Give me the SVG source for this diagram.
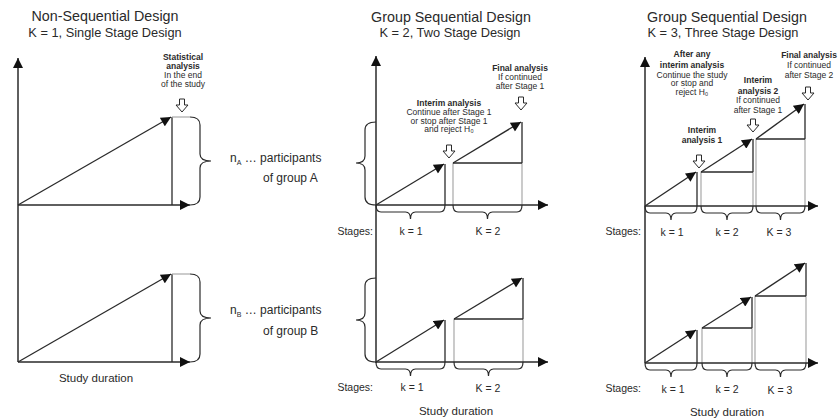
<svg xmlns="http://www.w3.org/2000/svg" xmlns:xlink="http://www.w3.org/1999/xlink" width="838" height="419" viewBox="0 0 838 419">
<style>
  text { font-family: "Liberation Sans", Arial, sans-serif; fill: #2a2a2a; }
  .title { font-size: 14.3px; text-anchor: middle; }
  .sub { font-size: 12.8px; text-anchor: middle; }
  .ann { font-size: 8.5px; text-anchor: middle; }
  .annb { font-size: 8.5px; text-anchor: middle; font-weight: bold; }
  .lbl { font-size: 10.5px; text-anchor: middle; }
  .stg { font-size: 10.5px; text-anchor: end; }
  .grp { font-size: 12px; }
  .dur { font-size: 11.5px; text-anchor: middle; }
  .ax { fill: none; stroke: #2a2a2a; stroke-width: 1.5; }
  .ln { fill: none; stroke: #2a2a2a; stroke-width: 1.3; }
  .lt { fill: none; stroke: #a8a8a8; stroke-width: 1.2; }
  .br { fill: none; stroke: #2a2a2a; stroke-width: 1.2; }
  .arr { marker-end: url(#ah); }
  .oa { fill: #fff; stroke: #2a2a2a; stroke-width: 1; }
</style>
<defs>
  <marker id="ah" viewBox="0 0 10 10" refX="10" refY="5" markerWidth="11" markerHeight="10" markerUnits="userSpaceOnUse" orient="auto">
    <path d="M0,0 L10,5 L0,10 Z" fill="#111"/>
  </marker>
  <path id="openArrow" d="M-2.5,0 H2.5 V6 H6 L0,13 L-6,6 H-2.5 Z"/>
</defs>
<rect width="838" height="419" fill="#fff"/>

<!-- Panel 1: Non-Sequential Design -->
<g id="panel1-title">
  <text class="title" x="105" y="21">Non-Sequential Design</text>
  <text class="sub" x="105" y="37">K = 1, Single Stage Design</text>
</g>
<g id="panel1-analysis">
  <text class="annb" x="183" y="60">Statistical</text>
  <text class="annb" x="183" y="69">analysis</text>
  <text class="ann" x="183" y="78">In the end</text>
  <text class="ann" x="183" y="87">of the study</text>
  <use href="#openArrow" class="oa" x="182" y="99"/>
</g>
<g id="panel1-groupA">
  <path class="ln" d="M172,117 V205"/>
  <path class="lt" d="M172,117 H190"/>
</g>
<g id="panel1-groupB">
  <path class="ln" d="M172,274 V362"/>
  <path class="lt" d="M172,274 H190"/>
</g>
<g id="label-nA">
  <path class="br" d="M190,117 Q200,117 200,125 V154 Q200,161 211,161 Q200,161 200,168 V197 Q200,205 190,205"/>
  <text class="grp" x="230" y="162">n<tspan font-size="7" dy="3">A</tspan><tspan dy="-3"> … participants</tspan></text>
  <text class="grp" x="263" y="182">of group A</text>
  <path class="br" d="M376,122 Q365,122 365,130 V156 Q365,163 356,163 Q365,163 365,170 V197 Q365,205 376,205"/>
</g>
<g id="label-nB">
  <path class="br" d="M190,274 Q200,274 200,282 V311 Q200,318 211,318 Q200,318 200,325 V354 Q200,362 190,362"/>
  <text class="grp" x="230" y="314">n<tspan font-size="7" dy="3">B</tspan><tspan dy="-3"> … participants</tspan></text>
  <text class="grp" x="263" y="335">of group B</text>
  <path class="br" d="M376,278 Q365,278 365,286 V313 Q365,320 356,320 Q365,320 365,327 V354 Q365,362 376,362"/>
</g>
<g id="panel1-duration">
  <text class="dur" x="96" y="382">Study duration</text>
</g>

<!-- Panel 2: Two Stage -->
<g id="panel2-title">
  <text class="title" x="451" y="22">Group Sequential Design</text>
  <text class="sub" x="450" y="37">K = 2, Two Stage Design</text>
</g>
<g id="panel2-interim">
  <text class="annb" x="449" y="106">Interim analysis</text>
  <text class="ann" x="449" y="115">Continue after Stage 1</text>
  <text class="ann" x="449" y="123.5">or stop after Stage 1</text>
  <text class="ann" x="449" y="132">and reject H₀</text>
  <use href="#openArrow" class="oa" x="449" y="145"/>
</g>
<g id="panel2-final">
  <text class="annb" x="520" y="71">Final analysis</text>
  <text class="ann" x="520" y="80">If continued</text>
  <text class="ann" x="520" y="88.5">after Stage 1</text>
  <use href="#openArrow" class="oa" x="521" y="97"/>
</g>
<g id="panel2-groupA">
  <path class="ln" d="M445,164 V205"/>
  <path class="lt" d="M453,163 V205 M522,163 V205"/>
  <path class="ln" d="M453,163 H522 M522,122 V163"/>
</g>
<g id="panel2-groupB">
  <path class="ln" d="M445,320 V362"/>
  <path class="lt" d="M454,319 V362 M523,319 V362"/>
  <path class="ln" d="M454,319 H523 M523,278 V319"/>
</g>
<g id="panel2-stagesA">
  <path class="br" d="M376,205 Q376,212 381,212 H405.5 Q410.5,212 410.5,219 Q410.5,212 415.5,212 H440 Q445,212 445,205"/>
  <path class="br" d="M453,205 Q453,212 458,212 H482.5 Q487.5,212 487.5,219 Q487.5,212 492.5,212 H517 Q522,212 522,205"/>
  <text class="stg" x="373" y="235">Stages:</text>
  <text class="lbl" x="411" y="235">k = 1</text>
  <text class="lbl" x="488" y="235">K = 2</text>
</g>
<g id="panel2-stagesB">
  <path class="br" d="M376,362 Q376,369 381,369 H405.5 Q410.5,369 410.5,376 Q410.5,369 415.5,369 H440 Q445,369 445,362"/>
  <path class="br" d="M454,362 Q454,369 459,369 H483.5 Q488.5,369 488.5,376 Q488.5,369 493.5,369 H518 Q523,369 523,362"/>
  <text class="stg" x="373" y="391">Stages:</text>
  <text class="lbl" x="412" y="391">k = 1</text>
  <text class="lbl" x="488" y="392">K = 2</text>
  <text class="dur" x="456" y="415">Study duration</text>
</g>

<!-- Panel 3: Three Stage -->
<g id="panel3-title">
  <text class="title" x="727" y="22">Group Sequential Design</text>
  <text class="sub" x="723" y="37">K = 3, Three Stage Design</text>
</g>
<g id="panel3-note">
  <text class="annb" x="692" y="57">After any</text>
  <text class="annb" x="692" y="67.5">interim analysis</text>
  <text class="ann" x="692" y="77.5">Continue the study</text>
  <text class="ann" x="692" y="86">or stop and</text>
  <text class="ann" x="692" y="95">reject H₀</text>
</g>
<g id="panel3-interim2">
  <text class="annb" x="758" y="83">Interim</text>
  <text class="annb" x="758" y="93.5">analysis 2</text>
  <text class="ann" x="758" y="103">If continued</text>
  <text class="ann" x="758" y="113">after Stage 1</text>
  <use href="#openArrow" class="oa" x="753" y="119"/>
</g>
<g id="panel3-final">
  <text class="annb" x="809" y="58">Final analysis</text>
  <text class="ann" x="809" y="68">If continued</text>
  <text class="ann" x="809" y="78">after Stage 2</text>
  <use href="#openArrow" class="oa" x="808" y="87"/>
</g>
<g id="panel3-interim1">
  <text class="annb" x="702" y="133">Interim</text>
  <text class="annb" x="702" y="143">analysis 1</text>
  <use href="#openArrow" class="oa" x="699" y="155"/>
</g>
<g id="panel3-groupA">
  <path class="ln" d="M697,172 V206"/>
  <path class="lt" d="M701,172 V206 M753,172 V206 M756,139 V206 M805,139 V206"/>
  <path class="ln" d="M701,172 H753 M753,139 V172 M756,139 H805 M805,104 V139"/>
</g>
<g id="panel3-groupB">
  <path class="ln" d="M697,330 V363"/>
  <path class="lt" d="M702,328 V363 M752,328 V363 M755,296 V363 M806,296 V363"/>
  <path class="ln" d="M702,328 H752 M752,297 V328 M755,296 H806 M806,263 V296"/>
</g>
<g id="panel3-stagesA">
  <path class="br" d="M645,206 Q645,213 650,213 H666 Q671,213 671,220 Q671,213 676,213 H692 Q697,213 697,206"/>
  <path class="br" d="M701,206 Q701,213 706,213 H722 Q727,213 727,220 Q727,213 732,213 H748 Q753,213 753,206"/>
  <path class="br" d="M756,206 Q756,213 761,213 H775.5 Q780.5,213 780.5,220 Q780.5,213 785.5,213 H800 Q805,213 805,206"/>
  <text class="stg" x="641" y="235">Stages:</text>
  <text class="lbl" x="672" y="236">k = 1</text>
  <text class="lbl" x="727" y="236">k = 2</text>
  <text class="lbl" x="779" y="236">K = 3</text>
</g>
<g id="panel3-stagesB">
  <path class="br" d="M645,363 Q645,370 650,370 H666 Q671,370 671,377 Q671,370 676,370 H692 Q697,370 697,363"/>
  <path class="br" d="M702,363 Q702,370 707,370 H722 Q727,370 727,377 Q727,370 732,370 H747 Q752,370 752,363"/>
  <path class="br" d="M755,363 Q755,370 760,370 H775.5 Q780.5,370 780.5,377 Q780.5,370 785.5,370 H801 Q806,370 806,363"/>
  <text class="stg" x="641" y="392">Stages:</text>
  <text class="lbl" x="673" y="393">k = 1</text>
  <text class="lbl" x="727" y="393">k = 2</text>
  <text class="lbl" x="780" y="394">K = 3</text>
  <text class="dur" x="727" y="416">Study duration</text>
</g>

<!-- Connectors: axes and growth arrows -->
<g id="connectors">
  <path class="ax arr" d="M18,362 V58"/>
  <path class="ax arr" d="M18,205 H190"/>
  <path class="ax arr" d="M18,362 H190"/>
  <path class="ln arr" d="M18,205 L171,117"/>
  <path class="ln arr" d="M18,362 L171,274"/>

  <path class="ax arr" d="M376,363 V56"/>
  <path class="ax arr" d="M376,205 H548"/>
  <path class="ax arr" d="M376,362 H548"/>
  <path class="ln arr" d="M376,205 L444,164"/>
  <path class="ln arr" d="M453,163 L521,122"/>
  <path class="ln arr" d="M376,362 L444,320"/>
  <path class="ln arr" d="M454,319 L522,278"/>

  <path class="ax arr" d="M645,363 V57"/>
  <path class="ax arr" d="M645,206 H818"/>
  <path class="ax arr" d="M645,363 H818"/>
  <path class="ln arr" d="M645,206 L696,172"/>
  <path class="ln arr" d="M701,172 L752,139"/>
  <path class="ln arr" d="M756,139 L804,104"/>
  <path class="ln arr" d="M645,363 L696,330"/>
  <path class="ln arr" d="M702,328 L751,297"/>
  <path class="ln arr" d="M755,296 L805,263"/>
</g>
</svg>
